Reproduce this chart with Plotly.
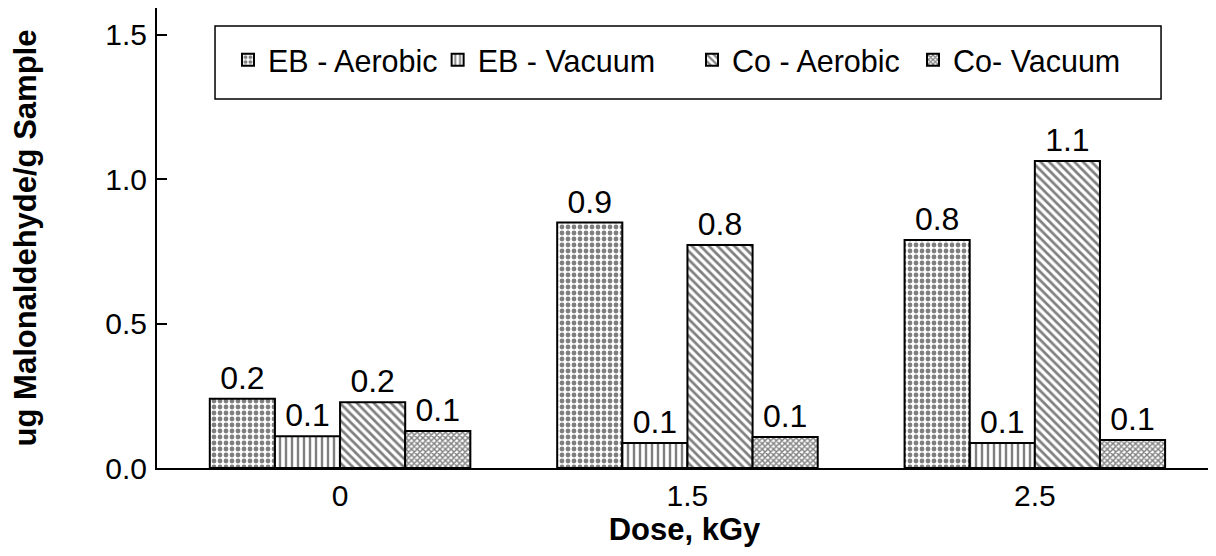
import plotly.graph_objects as go

doses = ["0", "1.5", "2.5"]
series_names = ["EB - Aerobic", "EB - Vacuum", "Co - Aerobic", "Co- Vacuum"]
eb_aerobic = [0.24, 0.85, 0.79]
eb_vacuum = [0.11, 0.087, 0.087]
co_aerobic = [0.228, 0.772, 1.063]
co_vacuum = [0.128, 0.107, 0.097]
eb_aerobic_lbl = ["0.2", "0.9", "0.8"]
eb_vacuum_lbl = ["0.1", "0.1", "0.1"]
co_aerobic_lbl = ["0.2", "0.8", "1.1"]
co_vacuum_lbl = ["0.1", "0.1", "0.1"]
y_ticks = [0.0, 0.5, 1.0, 1.5]

FONT = "Liberation Sans, Arial, sans-serif"

values = [eb_aerobic, eb_vacuum, co_aerobic, co_vacuum]
labels = [eb_aerobic_lbl, eb_vacuum_lbl, co_aerobic_lbl, co_vacuum_lbl]
patterns = [
    dict(shape=".", size=6, solidity=0.5, fgcolor="black", bgcolor="white"),
    dict(shape="|", size=6, solidity=0.4, fgcolor="black", bgcolor="white"),
    dict(shape="\\", size=6, solidity=0.45, fgcolor="black", bgcolor="white"),
    dict(shape="x", size=4, solidity=0.6, fgcolor="black", bgcolor="white"),
]
legend_ids = ["legend", "legend2", "legend3", "legend4"]
legend_x = [0.0673, 0.2660, 0.5071, 0.7166]

fig = go.Figure()
for name, vals, lbl, pat, lid in zip(series_names, values, labels, patterns, legend_ids):
    fig.add_trace(go.Bar(
        name=name, x=doses, y=vals, text=lbl, legend=lid,
        textposition="outside", cliponaxis=False,
        textfont=dict(family=FONT, size=32, color="black"),
        marker=dict(color="white", line=dict(color="black", width=2), pattern=pat),
    ))

legend_common = dict(orientation="h", y=0.945, xanchor="left", yanchor="top",
                     bgcolor="rgba(0,0,0,0)", borderwidth=0,
                     font=dict(family=FONT, size=30.5), itemwidth=30)
legends = {lid: dict(legend_common, x=lx) for lid, lx in zip(legend_ids, legend_x)}

fig.update_layout(
    width=1208, height=548,
    margin=dict(l=149, r=4, t=0, b=88),
    paper_bgcolor="white", plot_bgcolor="white",
    barmode="group", bargap=0.25, bargroupgap=0,
    font=dict(family=FONT, size=30, color="black"),
    showlegend=True,
    shapes=[dict(type="rect", xref="paper", yref="paper", x0=0.0550, x1=0.9517,
                 y0=0.802, y1=0.961, line=dict(color="black", width=1.5), fillcolor="rgba(0,0,0,0)")],
    xaxis=dict(
        type="category", range=[-0.527, 2.51],
        showline=True, linecolor="black", linewidth=2, mirror=True,
        ticks="", showgrid=False, zeroline=False,
        tickfont=dict(family=FONT, size=30), ticklabelstandoff=0,
        title=dict(text="<b>Dose, kGy</b>", font=dict(family=FONT, size=31), standoff=4),
        automargin=False,
    ),
    yaxis=dict(
        range=[0, 1.593], tickvals=y_ticks, tickformat=".1f",
        showline=True, linecolor="black", linewidth=2,
        ticks="inside", ticklen=10, tickwidth=2, tickcolor="black",
        showgrid=False, zeroline=False,
        tickfont=dict(family=FONT, size=30), ticklabelstandoff=2,
        title=dict(text="<b>ug Malonaldehyde/g Sample</b>", font=dict(family=FONT, size=31), standoff=66),
        automargin=False,
    ),
    **legends,
)

fig.write_html("out.html")
